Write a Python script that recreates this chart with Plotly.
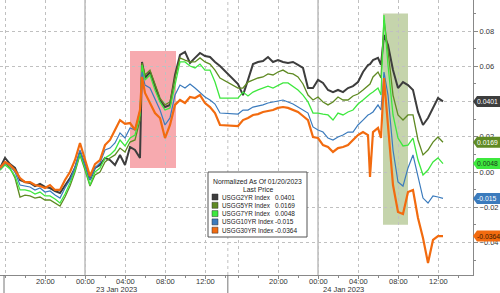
import plotly.graph_objects as go

# ---------------- data ----------------
times = [
    # session 1
    "2023-01-22 15:30", "2023-01-22 16:00", "2023-01-22 16:30", "2023-01-22 17:00", "2023-01-22 17:30",
    "2023-01-22 18:00", "2023-01-22 18:30", "2023-01-22 19:00", "2023-01-22 19:30", "2023-01-22 20:00",
    "2023-01-22 20:30", "2023-01-22 21:00", "2023-01-22 21:30", "2023-01-22 22:00", "2023-01-22 22:30",
    "2023-01-22 23:00", "2023-01-22 23:30", "2023-01-23 00:00", "2023-01-23 00:30", "2023-01-23 01:00",
    "2023-01-23 01:30", "2023-01-23 02:00", "2023-01-23 02:30", "2023-01-23 03:00", "2023-01-23 03:30",
    "2023-01-23 04:00", "2023-01-23 04:30", "2023-01-23 05:00", "2023-01-23 05:30", "2023-01-23 05:42",
    "2023-01-23 06:00", "2023-01-23 06:30", "2023-01-23 07:00", "2023-01-23 07:30", "2023-01-23 08:00",
    "2023-01-23 08:30", "2023-01-23 09:00", "2023-01-23 09:30", "2023-01-23 10:00", "2023-01-23 10:30",
    "2023-01-23 11:00", "2023-01-23 11:30", "2023-01-23 12:00", "2023-01-23 12:30", "2023-01-23 13:00",
    "2023-01-23 13:30",
    # session 2
    "2023-01-23 16:00", "2023-01-23 16:30", "2023-01-23 17:00", "2023-01-23 17:30", "2023-01-23 18:00",
    "2023-01-23 18:30", "2023-01-23 19:00", "2023-01-23 19:30", "2023-01-23 20:00", "2023-01-23 20:30",
    "2023-01-23 21:00", "2023-01-23 21:30", "2023-01-23 22:00", "2023-01-23 22:30", "2023-01-23 23:00",
    "2023-01-23 23:30", "2023-01-24 00:00", "2023-01-24 00:30", "2023-01-24 01:00", "2023-01-24 01:30",
    "2023-01-24 02:00", "2023-01-24 02:30", "2023-01-24 03:00", "2023-01-24 03:30", "2023-01-24 04:00",
    "2023-01-24 04:30", "2023-01-24 05:00", "2023-01-24 05:12", "2023-01-24 05:30", "2023-01-24 06:00",
    "2023-01-24 06:18", "2023-01-24 06:36", "2023-01-24 07:00", "2023-01-24 07:30", "2023-01-24 08:00",
    "2023-01-24 08:30", "2023-01-24 09:00", "2023-01-24 09:30", "2023-01-24 10:00", "2023-01-24 10:30",
    "2023-01-24 11:00", "2023-01-24 11:30", "2023-01-24 12:00", "2023-01-24 12:30",
]

usgg2yr = [
    0.0023, 0.0080, 0.0045, 0.0023, -0.0045, -0.0057, -0.0062, -0.0080, -0.0068, -0.0085,
    -0.0091, -0.0108, -0.0119, -0.0074, -0.0034, 0.0023, 0.0114, 0.0040, -0.0045, 0.0023,
    0.0040, 0.0080, 0.0068, 0.0040, 0.0097, 0.0040, 0.0142, 0.0125, 0.0080, 0.0625,
    0.0534, 0.0568, 0.0483, 0.0409, 0.0369, 0.0381, 0.0551, 0.0665, 0.0682, 0.0619,
    0.0648, 0.0676, 0.0659, 0.0653, 0.0625, 0.0602,
    0.0500, 0.0437, 0.0523, 0.0613, 0.0625, 0.0630, 0.0653, 0.0625, 0.0636, 0.0625,
    0.0619, 0.0625, 0.0608, 0.0591, 0.0477, 0.0477, 0.0523, 0.0506, 0.0466, 0.0454,
    0.0466, 0.0454, 0.0477, 0.0488, 0.0511, 0.0568, 0.0608, 0.0613, 0.0636, 0.0648,
    0.0608, 0.0778, 0.0721, 0.0579, 0.0477, 0.0511, 0.0494, 0.0466, 0.0341, 0.0267,
    0.0307, 0.0364, 0.0420, 0.0401,
]
usgg5yr = [
    0.0011, 0.0051, 0.0023, -0.0034, -0.0142, -0.0131, -0.0136, -0.0148, -0.0142, -0.0159,
    -0.0159, -0.0176, -0.0193, -0.0142, -0.0080, 0.0000, 0.0097, 0.0011, -0.0080, -0.0017,
    0.0000, 0.0057, 0.0080, 0.0097, 0.0136, 0.0114, 0.0170, 0.0182, 0.0295, 0.0619,
    0.0551, 0.0579, 0.0494, 0.0420, 0.0381, 0.0398, 0.0534, 0.0648, 0.0636, 0.0625,
    0.0625, 0.0648, 0.0625, 0.0613, 0.0579, 0.0534,
    0.0477, 0.0477, 0.0511, 0.0523, 0.0534, 0.0540, 0.0557, 0.0551, 0.0568, 0.0579,
    0.0562, 0.0557, 0.0540, 0.0500, 0.0437, 0.0409, 0.0426, 0.0398, 0.0381, 0.0398,
    0.0426, 0.0409, 0.0409, 0.0432, 0.0443, 0.0466, 0.0494, 0.0500, 0.0540, 0.0568,
    0.0534, 0.0863, 0.0693, 0.0437, 0.0324, 0.0295, 0.0324, 0.0324, 0.0182, 0.0097,
    0.0125, 0.0170, 0.0199, 0.0169,
]
usgg7yr = [
    0.0011, 0.0040, 0.0017, -0.0023, -0.0102, -0.0102, -0.0108, -0.0125, -0.0114, -0.0136,
    -0.0136, -0.0153, -0.0176, -0.0125, -0.0062, 0.0011, 0.0102, 0.0023, -0.0074, 0.0000,
    0.0023, 0.0080, 0.0097, 0.0125, 0.0182, 0.0148, 0.0193, 0.0210, 0.0324, 0.0608,
    0.0523, 0.0551, 0.0466, 0.0398, 0.0352, 0.0364, 0.0494, 0.0625, 0.0625, 0.0602,
    0.0591, 0.0613, 0.0579, 0.0579, 0.0511, 0.0420,
    0.0420, 0.0454, 0.0432, 0.0454, 0.0466, 0.0477, 0.0488, 0.0477, 0.0494, 0.0506,
    0.0506, 0.0488, 0.0466, 0.0437, 0.0398, 0.0335, 0.0335, 0.0329, 0.0324, 0.0295,
    0.0335, 0.0324, 0.0341, 0.0352, 0.0386, 0.0409, 0.0437, 0.0443, 0.0454, 0.0477,
    0.0437, 0.0892, 0.0608, 0.0324, 0.0193, 0.0148, 0.0153, 0.0193, 0.0068, -0.0017,
    0.0011, 0.0057, 0.0080, 0.0048,
]
usgg10yr = [
    0.0017, 0.0051, 0.0034, 0.0000, -0.0074, -0.0080, -0.0085, -0.0102, -0.0091, -0.0114,
    -0.0108, -0.0131, -0.0148, -0.0091, -0.0045, 0.0028, 0.0125, 0.0040, -0.0045, 0.0023,
    0.0051, 0.0125, 0.0136, 0.0165, 0.0222, 0.0193, 0.0250, 0.0239, 0.0352, 0.0568,
    0.0494, 0.0477, 0.0409, 0.0352, 0.0267, 0.0307, 0.0437, 0.0494, 0.0477, 0.0500,
    0.0477, 0.0454, 0.0426, 0.0409, 0.0386, 0.0335,
    0.0329, 0.0352, 0.0352, 0.0369, 0.0375, 0.0381, 0.0392, 0.0398, 0.0403, 0.0409,
    0.0398, 0.0386, 0.0369, 0.0352, 0.0335, 0.0256, 0.0239, 0.0227, 0.0193, 0.0182,
    0.0199, 0.0210, 0.0227, 0.0227, 0.0267, 0.0295, 0.0324, 0.0329, 0.0341, 0.0381,
    0.0352, 0.0568, 0.0437, 0.0125, -0.0057, -0.0080, 0.0023, 0.0097, -0.0034, -0.0148,
    -0.0176, -0.0136, -0.0142, -0.0150,
]
usgg30yr = [
    0.0023, 0.0057, 0.0040, 0.0011, -0.0034, -0.0057, -0.0057, -0.0074, -0.0080, -0.0091,
    -0.0074, -0.0102, -0.0102, -0.0045, 0.0000, 0.0068, 0.0165, 0.0068, -0.0023, 0.0045,
    0.0068, 0.0153, 0.0182, 0.0239, 0.0295, 0.0273, 0.0278, 0.0239, 0.0352, 0.0540,
    0.0449, 0.0392, 0.0335, 0.0307, 0.0193, 0.0267, 0.0381, 0.0409, 0.0392, 0.0426,
    0.0420, 0.0437, 0.0392, 0.0369, 0.0335, 0.0267,
    0.0261, 0.0295, 0.0307, 0.0324, 0.0329, 0.0341, 0.0346, 0.0352, 0.0364, 0.0369,
    0.0364, 0.0352, 0.0341, 0.0318, 0.0295, 0.0199, 0.0193, 0.0153, 0.0142, 0.0114,
    0.0136, 0.0142, 0.0153, 0.0182, 0.0210, 0.0227, 0.0210, -0.0028, 0.0227, 0.0250,
    0.0193, 0.0534, 0.0267, -0.0074, -0.0227, -0.0239, -0.0114, -0.0102, -0.0261, -0.0375,
    -0.0517, -0.0386, -0.0364, -0.0364,
]

series_names = ["USGG2YR Index", "USGG5YR Index", "USGG7YR Index", "USGG10YR Index", "USGG30YR Index"]
series_values = [usgg2yr, usgg5yr, usgg7yr, usgg10yr, usgg30yr]
last_prices = [0.0401, 0.0169, 0.0048, -0.015, -0.0364]
colors = ["#3d3d3d", "#5f8a23", "#3ee83e", "#3b7bbd", "#f26b0f"]
tag_text_colors = ["#ffffff", "#ffffff", "#1a3a1a", "#ffffff", "#3a1a00"]
widths = [2.0, 1.3, 1.3, 1.2, 2.2]

tick_vals = ["2023-01-22 16:00", "2023-01-22 20:00", "2023-01-23 00:00", "2023-01-23 04:00",
             "2023-01-23 08:00", "2023-01-23 12:00", "2023-01-23 16:00", "2023-01-23 20:00",
             "2023-01-24 00:00", "2023-01-24 04:00", "2023-01-24 08:00", "2023-01-24 12:00"]
tick_text = ["", "20:00", "00:00", "04:00", "08:00", "12:00", "", "20:00", "00:00", "04:00", "08:00", "12:00"]
day_labels = ["23 Jan 2023", "24 Jan 2023"]
day_label_pos = ["2023-01-23 03:06", "2023-01-24 02:30"]
legend_title = ["Normalized As Of 01/20/2023", "Last Price"]

# highlighted regions
pink_x = ["2023-01-23 04:30", "2023-01-23 09:06"]
pink_y = [0.0023, 0.0688]
green_x = ["2023-01-24 06:30", "2023-01-24 09:00"]
green_y = [-0.030, 0.090]

FONT = "Liberation Sans"
W, H = 500, 293
ML, MR, MT, MB = 0, 27, 0, 18
PW, PH = W - ML - MR, H - MT - MB


def px_x(p):
    return (p - ML) / PW


def px_y(p):
    return 1 - (p - MT) / PH


fig = go.Figure()
for name, vals, c, w in zip(series_names, series_values, colors, widths):
    fig.add_trace(go.Scatter(x=times, y=vals, mode="lines", name=name,
                             line=dict(color=c, width=w), showlegend=False))

shapes = []
shapes.append(dict(type="rect", xref="x", yref="y", x0=pink_x[0], x1=pink_x[1], y0=pink_y[0], y1=pink_y[1],
                   fillcolor="rgba(240,100,110,0.55)", line=dict(width=0), layer="below"))
shapes.append(dict(type="rect", xref="x", yref="y", x0=green_x[0], x1=green_x[1], y0=green_y[0], y1=green_y[1],
                   fillcolor="rgba(140,170,90,0.5)", line=dict(width=0), layer="below"))
# midnight solid lines
for d in ["2023-01-23 00:00", "2023-01-24 00:00"]:
    shapes.append(dict(type="line", xref="x", yref="paper", x0=d, x1=d, y0=0, y1=1,
                       line=dict(color="#9a9a9a", width=1), layer="below"))
# session separator (dotted in plot, solid below axis)
shapes.append(dict(type="line", xref="x", yref="paper", x0="2023-01-23 14:17", x1="2023-01-23 14:17", y0=0, y1=1,
                   line=dict(color="#c0c0c0", width=1, dash="dot"), layer="below"))
for d in ["2023-01-22 15:54", "2023-01-23 14:17"]:
    shapes.append(dict(type="line", xref="x", yref="paper", x0=d, x1=d, y0=0, y1=-MB / PH,
                       line=dict(color="#777777", width=1)))

annotations = []
# right tags
for v, c, tc in zip(last_prices, colors, tag_text_colors):
    shapes.append(dict(type="path", xref="paper", yref="y", xsizemode="pixel", ysizemode="pixel",
                       xanchor=1, yanchor=v, path="M 0 0 L 4 5.5 L 30 5.5 L 30 -5.5 L 4 -5.5 Z",
                       fillcolor=c, line=dict(width=0)))
    annotations.append(dict(xref="paper", yref="y", x=1, y=v, xanchor="left", yanchor="middle", xshift=2,
                            text=f"{v:g}", showarrow=False, font=dict(family=FONT, size=6.8, color=tc)))

# x tick labels (drawn close to the axis like the reference)
for tv, tt in zip(tick_vals, tick_text):
    if tt:
        annotations.append(dict(xref="x", yref="paper", x=tv, y=px_y(281), text=tt, showarrow=False,
                                xanchor="center", yanchor="middle", font=dict(family=FONT, size=7.5, color="#333")))

# legend box
bx0, bx1, by0, by1 = 208, 307, 172, 237
shapes.append(dict(type="rect", xref="paper", yref="paper", x0=px_x(bx0), x1=px_x(bx1), y0=px_y(by1), y1=px_y(by0),
                   fillcolor="white", line=dict(color="#555555", width=1)))
annotations.append(dict(xref="paper", yref="paper", x=px_x((bx0 + bx1) / 2), y=px_y(181), text=legend_title[0],
                        showarrow=False, xanchor="center", yanchor="middle",
                        font=dict(family=FONT, size=6.8, color="#222")))
annotations.append(dict(xref="paper", yref="paper", x=px_x((bx0 + bx1) / 2), y=px_y(189), text=legend_title[1],
                        showarrow=False, xanchor="center", yanchor="middle",
                        font=dict(family=FONT, size=6.8, color="#222")))
row_y = [197, 205.3, 213.6, 221.9, 230.2]
for ry, name, v, c in zip(row_y, series_names, last_prices, colors):
    shapes.append(dict(type="rect", xref="paper", yref="paper", x0=px_x(212), x1=px_x(218),
                       y0=px_y(ry + 3), y1=px_y(ry - 3), fillcolor=c, line=dict(color="#333", width=0.5)))
    annotations.append(dict(xref="paper", yref="paper", x=px_x(220), y=px_y(ry), text=name, showarrow=False,
                            xanchor="left", yanchor="middle", font=dict(family=FONT, size=6.3, color="#222")))
    annotations.append(dict(xref="paper", yref="paper", x=px_x(273), y=px_y(ry), text=f"{v:g}", showarrow=False,
                            xanchor="left", yanchor="middle", font=dict(family=FONT, size=6.5, color="#222")))

# day labels
for lab, pos in zip(day_labels, day_label_pos):
    annotations.append(dict(xref="x", yref="paper", x=pos, y=px_y(289), text=lab, showarrow=False,
                            xanchor="center", yanchor="middle", font=dict(family=FONT, size=7.5, color="#333")))

fig.update_layout(
    width=W, height=H, margin=dict(l=ML, r=MR, t=MT, b=MB),
    paper_bgcolor="white", plot_bgcolor="white",
    shapes=shapes, annotations=annotations, showlegend=False,
    font=dict(family=FONT, size=8, color="#333"),
)
fig.update_xaxes(
    type="date", range=["2023-01-22 15:30", "2023-01-24 15:30"],
    rangebreaks=[dict(bounds=["2023-01-23 14:18", "2023-01-23 15:00"])],
    tickmode="array", tickvals=tick_vals, ticktext=tick_text, showticklabels=False,
    showgrid=True, gridcolor="#c0c0c0", griddash="dot", gridwidth=1,
    showline=True, linecolor="#888", linewidth=1,
    ticks="outside", ticklen=3, tickcolor="#888",
    minor=dict(tickmode="linear", tick0="2023-01-22 16:00", dtick=7200000, ticks="outside",
               ticklen=2, tickcolor="#888", showgrid=False),
    zeroline=False, fixedrange=True,
)
fig.update_yaxes(
    side="right", range=[-0.0585, 0.0977], tick0=0, dtick=0.02, tickformat=".2f",
    showgrid=True, gridcolor="#c0c0c0", griddash="dot", gridwidth=1,
    showline=True, linecolor="#888", linewidth=1,
    ticks="outside", ticklen=4, tickcolor="#888",
    tickfont=dict(family=FONT, size=7.5, color="#333"),
    minor=dict(dtick=0.01, ticks="outside", ticklen=2, tickcolor="#888", showgrid=False),
    zeroline=False, fixedrange=True,
)

fig.write_html("out.html")
